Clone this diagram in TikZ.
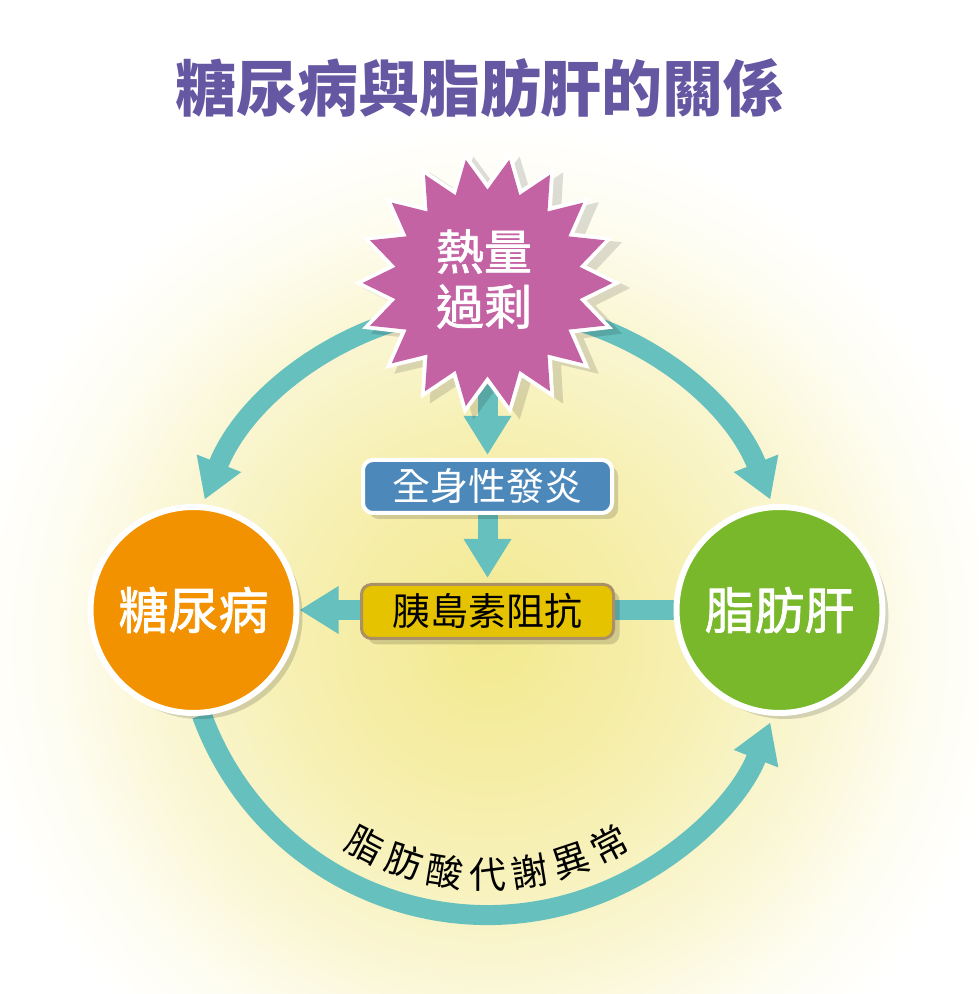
\documentclass[tikz,border=0pt]{standalone}
\usepackage{fontspec}
\setmainfont{Noto Sans CJK TC}
\newfontfamily\medfont{Noto Sans CJK TC}[FakeBold=1.5]
\usetikzlibrary{shapes.geometric,arrows.meta,calc,shadows}
\definecolor{tealc}{HTML}{66C0BE}
\definecolor{titlec}{HTML}{6657A3}
\definecolor{magc}{HTML}{C463A3}
\definecolor{orangec}{HTML}{F39200}
\definecolor{greenc}{HTML}{78B82A}
\definecolor{bluec}{HTML}{4D88BA}
\definecolor{goldc}{HTML}{E6C300}
\definecolor{tanc}{HTML}{A99065}
\definecolor{bgA}{HTML}{F3E98F}
\definecolor{bgB}{HTML}{F6EFAF}
\definecolor{bgC}{HTML}{FAF6D3}
\definecolor{bgD}{HTML}{FEFDF1}
\pgfdeclareradialshading{bgsh}{\pgfpoint{0bp}{0bp}}{color(0bp)=(bgA); color(9bp)=(bgB); color(16bp)=(bgC); color(21bp)=(bgD); color(25bp)=(white); color(50bp)=(white)}
\pgfdeclarelayer{bg}
\pgfdeclarelayer{links}
\pgfsetlayers{bg,links,main}
\newcommand\fsz[1]{\fontsize{#1}{#1}\selectfont}
\begin{document}
\begin{tikzpicture}[x=1pt,y=1pt,
  conn/.style={draw=tealc, line width=20pt, -{Triangle[width=45pt,length=39pt]}},
  bigarc/.style={conn},
  shd/.style={drop shadow={shadow xshift=6pt, shadow yshift=-6pt, fill=black, opacity=0.15}},
  disc/.style={circle, draw=white, line width=6pt, minimum size=206pt, inner sep=0pt, text=white, font=\medfont\fsz{50}, shd},
  boxb/.style={rectangle, rounded corners=10pt, minimum width=249pt, minimum height=53pt, inner sep=0pt, font=\fsz{38}, shd},
  starb/.style={star, star points=18, shape border rotate=10, inner sep=0pt},
  arclbl/.style={font=\fsz{37}, text=black, inner sep=0pt}
]
\useasboundingbox (0,0) rectangle (978,994);
\begin{pgfonlayer}{bg}
  \fill[white] (0,0) rectangle (978,994);
  \begin{scope}
    \clip (0,0) rectangle (978,994);
    \coordinate (glow) at (490,354);
    \shade[shading=bgsh] (glow) circle (520);
  \end{scope}
\end{pgfonlayer}

% title
\node[font=\bfseries\fsz{61}, text=titlec] (title) at (480,906) {糖尿病與脂肪肝的關係};

% star
\node[starb, star point ratio=1.33, minimum size=267pt, fill=white,
  drop shadow={shadow xshift=9pt, shadow yshift=-5pt, fill=black, opacity=0.13}] (starw) at (487.5,711) {};
\node[starb, star point ratio=1.34, minimum size=250pt, fill=magc] (star) at (487.5,711) {};
\node[text=white, font=\medfont\fsz{48}, align=center, inner sep=0pt] (startxt) at (484,715) {熱量\\[7pt]過剩};

% boxes
\node[boxb, fill=bluec, draw=white, line width=4pt, text=white] (inf) at (487.5,507.5) {全身性發炎};
\node[boxb, fill=goldc, draw=tanc, line width=3pt, minimum width=252pt, minimum height=54pt, text=black] (ir) at (487.5,382.5) {胰島素阻抗};

% circles
\node[disc, fill=orangec] (dm) at (193.5,384) {糖尿病};
\node[disc, fill=greenc] (fl) at (779.5,384) {脂肪肝};

% connectors
\begin{pgfonlayer}{links}
  \coordinate (cc) at (487.5,383);
  \coordinate (s1) at ($(cc)+(100:304)$);
  \coordinate (s2) at ($(cc)+(80:304)$);
  \coordinate (s3) at ($(cc)+(200:304)$);
  \draw[bigarc] (s1) arc[start angle=100, end angle=158.5, radius=304];
  \draw[bigarc] (s2) arc[start angle=80, end angle=21.5, radius=304];
  \draw[bigarc] (s3) arc[start angle=200, end angle=338.5, radius=304];
  \draw[conn, shorten >=3pt] (star.center) -- (inf.north);
  \draw[conn, shorten >=5pt] (inf.south) -- (ir.north);
  \draw[conn] (fl.center) -- (dm.east);
\end{pgfonlayer}

% arc label
\foreach \ch [count=\i from 0] in {脂,肪,酸,代,謝,異,常} {
  \node[arclbl, rotate={(\i-3)*9.2}] (fa\i) at ($(cc)+({270+(\i-3)*9.2}:264)$) {\ch};
}
\end{tikzpicture}
\end{document}
